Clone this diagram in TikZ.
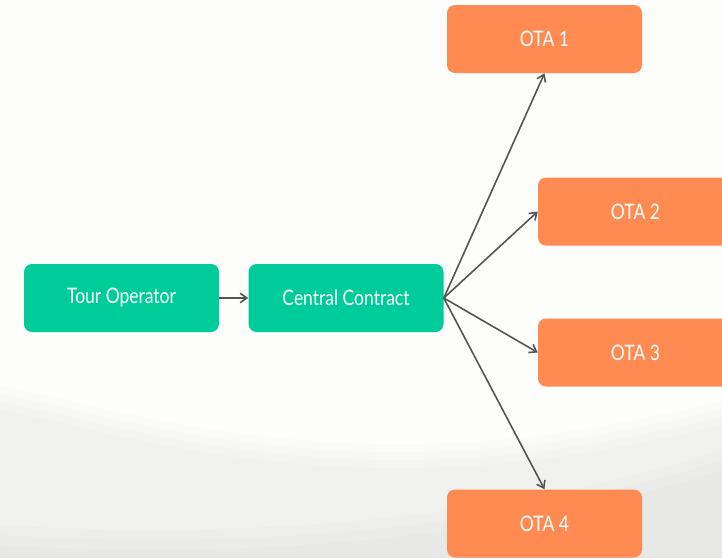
\documentclass[tikz,border=0pt]{standalone}
\usepackage{fontspec}
\setmainfont{Lato}[FakeStretch=0.82]
\usepackage{tikz}
\usetikzlibrary{positioning}
\usetikzlibrary{arrows.meta}

\definecolor{partyGreen}{HTML}{00CC99}
\definecolor{otaOrange}{HTML}{FF8A52}
\definecolor{linkGray}{HTML}{555555}
\definecolor{paper}{HTML}{FDFDFC}

\tikzset{
    box/.style={rectangle, rounded corners=6pt, text=white, font=\fontsize{16}{18}\selectfont,
        minimum width=146.25pt, minimum height=51pt, inner sep=0pt},
    party/.style={box, fill=partyGreen},
    ota/.style={box, fill=otaOrange},
    link/.style={draw=linkGray, line width=1.2pt, -{Straight Barb[length=5pt,width=7pt]}}
}

\begin{document}
\begin{tikzpicture}[x=0.75pt, y=-0.75pt]
    \useasboundingbox (0,0) rectangle (722,558);
    \fill[paper] (0,0) rectangle (722,558);
    % soft swooshes in the lower part, layered to fade out
    \foreach \d in {0,8,16,24}{
        \fill[black, opacity=0.012] (0,385+\d) .. controls (160,420+\d) and (380,490+\d) .. (722,400+\d)
            -- (722,558) -- (0,558) -- cycle;
    }
    \foreach \d in {0,10,20}{
        \fill[black, opacity=0.012] (0,525+\d) .. controls (250,540+\d) and (500,520+\d) .. (722,450+\d)
            -- (722,558) -- (0,558) -- cycle;
    }

    \node(TO) [party] at (121.5,298) {Tour Operator};
    \node(CC) [party, right=21.75pt of TO] {Central Contract};
    \node(O1) [ota] at (544.5,39) {OTA 1};
    \node(O2) [ota] at (635.5,211.5) {OTA 2};
    \node(O3) [ota] at (635.5,352.5) {OTA 3};
    \node(O4) [ota] at (544.5,523.5) {OTA 4};

    \draw[link](TO) -- (CC);
    \draw[link](CC.east) -- (O1.south);
    \draw[link](CC.east) -- (O2.west);
    \draw[link](CC.east) -- (O3.west);
    \draw[link](CC.east) -- (O4.north);
\end{tikzpicture}
\end{document}
